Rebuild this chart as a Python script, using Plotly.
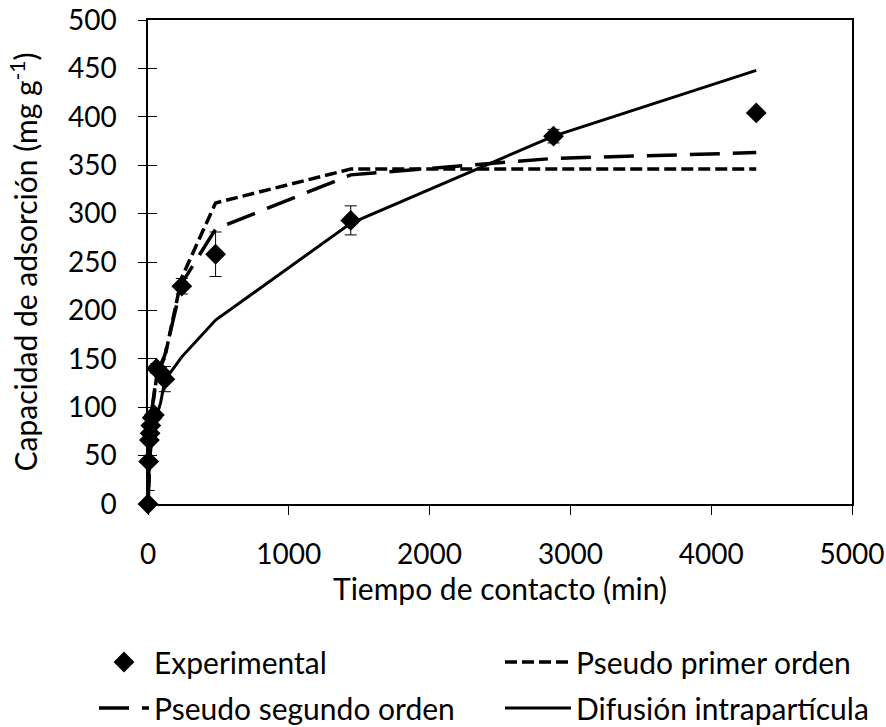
import plotly.graph_objects as go

# Data
tiempo = [0, 5, 10, 15, 20, 30, 45, 60, 90, 120, 240, 480, 1440, 2880, 4320]
experimental = [0, 44, 66, 73, 81, 89, 92, 140, 136, 129, 225, 258, 293, 380, 404]
error_exp = [0, 30, 3, 3, 3, 3, 3, 5, 5, 13, 8, 23, 15, 7, 3]
pseudo_primer = [0, 24, 45, 62, 76, 98, 118, 130, 142, 152, 234, 311, 346, 346, 346]
pseudo_segundo = [0, 26, 48, 64, 78, 100, 120, 132, 144, 154, 228, 284, 340, 357, 363]
difusion = [0, 30, 42, 50, 57, 68, 80, 90, 105, 128, 152, 190, 290, 380, 448]

x_ticks = [0, 1000, 2000, 3000, 4000, 5000]
y_ticks = [0, 50, 100, 150, 200, 250, 300, 350, 400, 450, 500]

FONT = "Lato"
FS = 30      # titles / legend
TFS = 28     # tick labels
W, H = 886, 727

fig = go.Figure()

fig.add_trace(go.Scatter(
    x=tiempo, y=pseudo_primer, mode="lines", name="Pseudo primer orden",
    line=dict(color="black", width=3.5, dash="12px,5px"),
    legend="legend2"))
fig.add_trace(go.Scatter(
    x=tiempo, y=pseudo_segundo, mode="lines", name="Pseudo segundo orden",
    line=dict(color="black", width=3.5, dash="30px,13px"),
    legend="legend3"))
fig.add_trace(go.Scatter(
    x=tiempo, y=difusion, mode="lines", name="Difusión intrapartícula",
    line=dict(color="black", width=3),
    legend="legend4"))
fig.add_trace(go.Scatter(
    x=tiempo, y=experimental, mode="markers", name="Experimental",
    marker=dict(symbol="diamond", size=16, color="black"),
    error_y=dict(type="data", array=error_exp, visible=True,
                 color="black", thickness=1, width=6),
    cliponaxis=False, legend="legend"))

# helper trace on the overlay axis that draws the outer half of the y ticks
fig.add_trace(go.Scatter(x=[0, 5000], y=[0, 0], yaxis="y2", mode="markers",
                         marker=dict(size=1, opacity=0), showlegend=False,
                         hoverinfo="skip"))

axis_common = dict(showgrid=False, zeroline=False, showline=True,
                   linecolor="black", linewidth=1.5, mirror=True,
                   tickcolor="black", ticklen=9, tickwidth=1.2,
                   automargin=False, ticklabeloverflow="allow",
                   tickfont=dict(family=FONT, size=TFS, color="black"))


def leg(x0, yc, iw):
    return dict(orientation="h", xref="container", yref="container",
                x=x0 / W, y=1 - yc / H,
                xanchor="left", yanchor="middle",
                itemwidth=iw, bgcolor="rgba(0,0,0,0)",
                font=dict(family=FONT, size=FS, color="black"))


fig.update_layout(
    width=W, height=H,
    margin=dict(l=148, r=W - 852, t=20, b=H - 504),
    paper_bgcolor="white", plot_bgcolor="white",
    font=dict(family=FONT, size=FS, color="black"),
    xaxis=dict(range=[0, 5000], tickvals=x_ticks, ticks="outside",
               ticklabelstandoff=16,
               title=dict(text="Tiempo de contacto (min)",
                          font=dict(family=FONT, size=FS), standoff=9),
               **axis_common),
    yaxis=dict(range=[0, 500], tickvals=y_ticks, ticks="inside",
               ticklabelstandoff=24,
               title=dict(text="Capacidad de adsorción (mg g<sup>-1</sup>)",
                          font=dict(family=FONT, size=FS), standoff=21),
               **axis_common),
    yaxis2=dict(overlaying="y", side="left", anchor="x", showline=False,
                showgrid=False, zeroline=False, showticklabels=False,
                ticks="outside", ticklen=9, tickwidth=1.2, tickcolor="black",
                tickvals=y_ticks, range=[0, 500]),
    legend=leg(94, 662, 50),
    legend2=leg(500, 662, 66),
    legend3=leg(94, 708, 50),
    legend4=leg(500, 708, 66),
    showlegend=True,
)

fig.write_html("out.html",
               config={"displayModeBar": False},
               post_script="document.body.style.margin='0';"
                           "document.body.style.overflow='hidden';")
